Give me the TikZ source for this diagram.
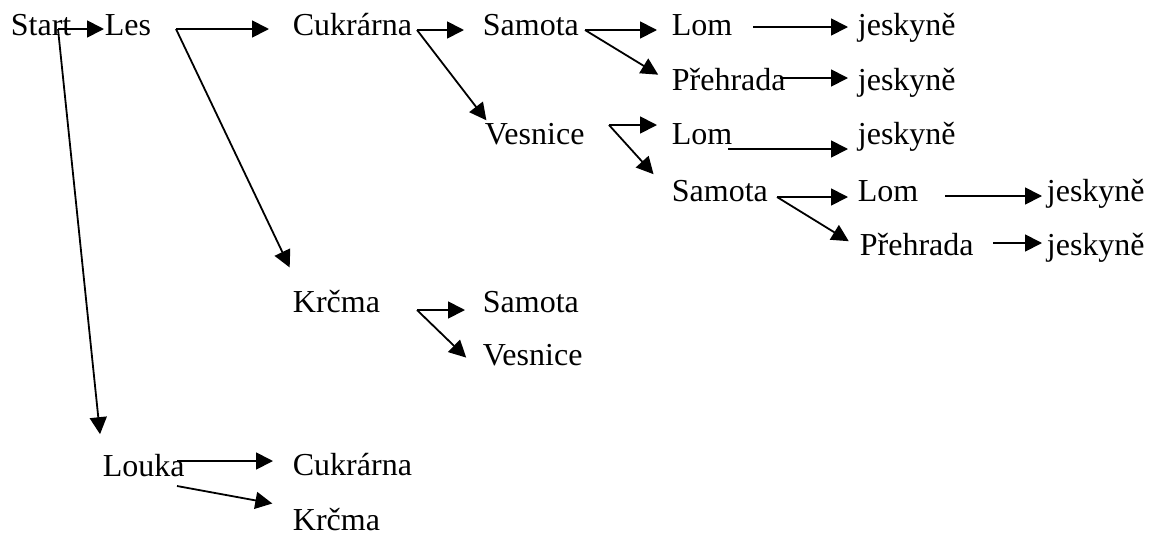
\documentclass[tikz,border=0pt]{standalone}
\usepackage{fontspec}
\setmainfont{Liberation Serif}
\usetikzlibrary{arrows.meta}

\begin{document}
\begin{tikzpicture}[x=1pt,y=-1pt,>={Triangle[length=17pt 0,width=17pt 0]},line width=1.8pt,
    place/.style={anchor=base west,inner sep=0pt,text height=22pt,text depth=7pt,
                  font=\fontsize{32}{38}\selectfont}]
  \useasboundingbox (0,0) rectangle (1158,536);

  % places
  \node[place] (start) at (10,35)   {Start};
  \node[place] (les)   at (104,35)  {Les};
  \node[place] (cuk1)  at (292,35)  {Cukrárna};
  \node[place] (sam1)  at (482,35)  {Samota};
  \node[place] (lom1)  at (671,35)  {Lom};
  \node[place] (jes1)  at (857,35)  {jeskyně};
  \node[place] (preh1) at (671,90)  {Přehrada};
  \node[place] (jes2)  at (857,90)  {jeskyně};
  \node[place] (ves1)  at (484,144) {Vesnice};
  \node[place] (lom2)  at (671,144) {Lom};
  \node[place] (jes3)  at (857,144) {jeskyně};
  \node[place] (sam2)  at (671,201) {Samota};
  \node[place] (lom3)  at (857,201) {Lom};
  \node[place] (jes4)  at (1046,201) {jeskyně};
  \node[place] (preh2) at (859,255) {Přehrada};
  \node[place] (jes5)  at (1046,255) {jeskyně};
  \node[place] (krc1)  at (292,312) {Krčma};
  \node[place] (sam3)  at (482,312) {Samota};
  \node[place] (ves2)  at (482,365) {Vesnice};
  \node[place] (louka) at (102,476) {Louka};
  \node[place] (cuk2)  at (292,475) {Cukrárna};
  \node[place] (krc2)  at (292,530) {Krčma};

  % arrow tails
  \coordinate (start-o) at (58,29);
  \coordinate (les-o)   at (176,29);
  \coordinate (cuk1-o)  at (417,30);
  \coordinate (sam1-o)  at (585,30);
  \coordinate (lom1-o)  at (753,27);
  \coordinate (preh1-o) at (780,78);
  \coordinate (ves1-o)  at (609,125);
  \coordinate (lom2-o)  at (728,149);
  \coordinate (sam2-o)  at (777,197);
  \coordinate (lom3-o)  at (945,196);
  \coordinate (preh2-o) at (993,243);
  \coordinate (krc1-o)  at (417,310);
  \coordinate (louka-a) at (177,461);
  \coordinate (louka-b) at (177,486);

  \path[->] (start-o) edge (start-o -| les.west)
                      edge [shorten >=19pt] (louka.north west)
        (les-o)   edge [shorten >=23pt] (les-o -| cuk1.west)
                  edge [shorten >=24pt] ([xshift=8pt]krc1.north west)
        (cuk1-o)  edge [shorten >=18pt] (cuk1-o -| sam1.west)
                  edge [shorten >=1pt] ([xshift=3pt]ves1.north west)
        (sam1-o)  edge [shorten >=14pt] (sam1-o -| lom1.west)
                  edge [shorten >=15pt] (preh1.west)
        (lom1-o)  edge [shorten >=9pt] (lom1-o -| jes1.west)
        (preh1-o) edge [shorten >=9pt] (preh1-o -| jes2.west)
        (ves1-o)  edge [shorten >=14pt] (ves1-o -| lom2.west)
                  edge [shorten >=26pt] (sam2.west)
        (lom2-o)  edge [shorten >=9pt] (lom2-o -| jes3.west)
        (sam2-o)  edge [shorten >=9pt] (sam2-o -| lom3.west)
                  edge [shorten >=12pt] (preh2.west)
        (lom3-o)  edge [shorten >=4pt] (lom3-o -| jes4.west)
        (preh2-o) edge [shorten >=4pt] (preh2-o -| jes5.west)
        (krc1-o)  edge [shorten >=17pt] (krc1-o -| sam3.west)
                  edge [shorten >=22pt] (ves2.south west)
        (louka-a) edge [shorten >=19pt] (louka-a -| cuk2.west)
        (louka-b) edge [shorten >=20pt] (krc2.north west);
\end{tikzpicture}
\end{document}
